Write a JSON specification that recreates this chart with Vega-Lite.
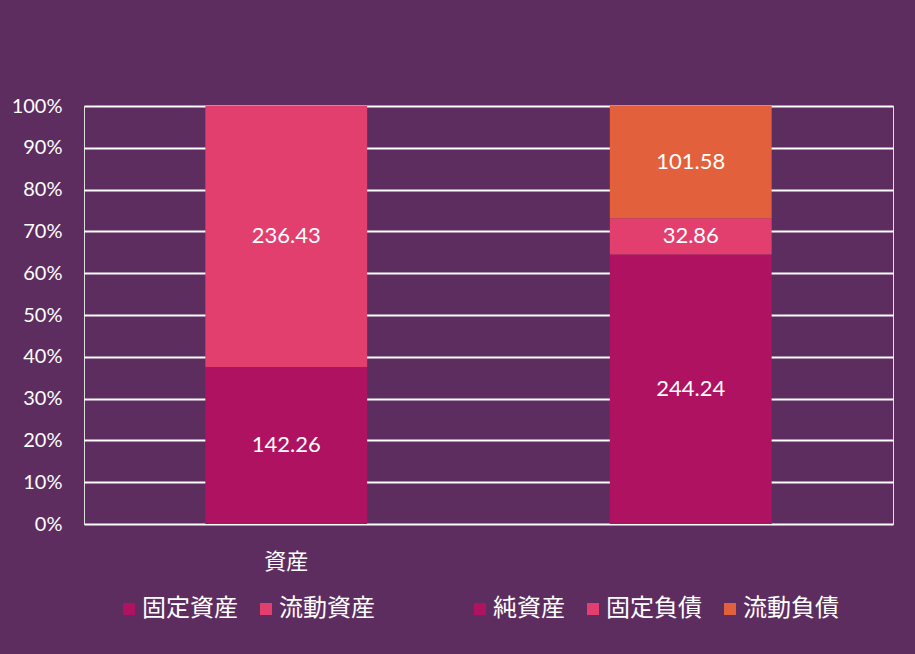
{
  "$schema": "https://vega.github.io/schema/vega-lite/v6.json",
  "width": 809,
  "height": 418,
  "autosize": "none",
  "padding": {"left": 84, "top": 106, "right": 22, "bottom": 130},
  "background": "#5e2d60",
  "data": {
    "values": [
      {"group": "資産", "item": "固定資産", "order": 1, "value": 142.26},
      {"group": "資産", "item": "流動資産", "order": 2, "value": 236.43},
      {"group": "負債・純資産", "item": "純資産", "order": 1, "value": 244.24},
      {"group": "負債・純資産", "item": "固定負債", "order": 2, "value": 32.86},
      {"group": "負債・純資産", "item": "流動負債", "order": 3, "value": 101.58}
    ]
  },
  "encoding": {
    "x": {
      "field": "group",
      "type": "nominal",
      "sort": ["資産", "負債・純資産"],
      "scale": {"paddingInner": 0.6, "paddingOuter": 0.3},
      "axis": {
        "title": null,
        "domain": false,
        "ticks": false,
        "labelAngle": 0,
        "labelExpr": "datum.value == '資産' ? '資産' : ''",
        "labelFont": "Noto Sans CJK JP",
        "labelFontSize": 22,
        "labelColor": "#ffffff",
        "labelPadding": 27
      }
    }
  },
  "layer": [
    {
      "mark": {"type": "bar"},
      "encoding": {
        "y": {
          "field": "value",
          "type": "quantitative",
          "stack": "normalize",
          "axis": {
            "title": null,
            "values": [0, 0.1, 0.2, 0.3, 0.4, 0.5, 0.6, 0.7, 0.8, 0.9, 1],
            "format": ".0%",
            "domain": false,
            "ticks": false,
            "grid": true,
            "gridColor": "#ffffff",
            "gridWidth": 2,
            "gridOpacity": 1,
            "labelFont": "Lato",
            "labelFontSize": 20,
            "labelColor": "#ffffff",
            "labelPadding": 22
          }
        },
        "order": {"field": "order", "type": "quantitative"},
        "color": {
          "field": "item",
          "type": "nominal",
          "scale": {
            "domain": ["固定資産", "流動資産", "⠀⠀", "純資産", "固定負債", "流動負債"],
            "range": ["#b01262", "#e23f6f", "transparent", "#b01262", "#e23f6f", "#e2603c"]
          },
          "legend": {
            "title": null,
            "orient": "none",
            "direction": "horizontal",
            "legendX": 33,
            "legendY": 491,
            "symbolType": "square",
            "symbolSize": 144,
            "symbolStrokeWidth": 0,
            "labelFont": "Noto Sans CJK JP",
            "labelFontSize": 24,
            "labelColor": "#ffffff",
            "labelOffset": 1,
            "columnPadding": 16,
            "labelLimit": 300
          }
        }
      }
    },
    {
      "transform": [
        {"stack": "value", "groupby": ["group"], "sort": [{"field": "order"}], "offset": "normalize", "as": ["y0", "y1"]},
        {"calculate": "(datum.y0 + datum.y1) / 2", "as": "ymid"}
      ],
      "mark": {"type": "text", "color": "#ffffff", "font": "Lato", "fontSize": 22},
      "encoding": {
        "y": {"field": "ymid", "type": "quantitative"},
        "text": {"field": "value", "type": "quantitative", "format": ".2f"}
      }
    }
  ]
}
